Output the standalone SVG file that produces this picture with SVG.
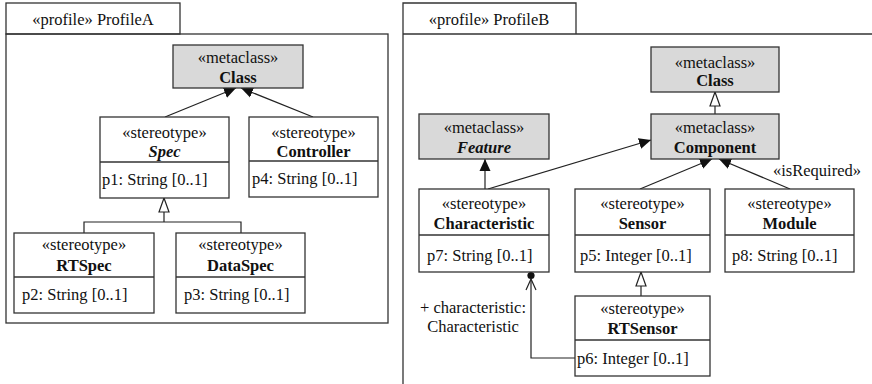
<svg xmlns="http://www.w3.org/2000/svg" width="872" height="384" viewBox="0 0 872 384">
  <style>
    text { font-family: "Times New Roman", Times, "Liberation Serif", "Noto Serif", "DejaVu Serif", serif; font-size: 16.5px; fill: #111; }
    .c { text-anchor: middle; }
    .b { font-weight: bold; }
    .i { font-style: italic; }
    .frame { fill: none; stroke: #333; stroke-width: 1.3; }
    .meta { fill: #d9d9d9; stroke: #333; stroke-width: 1.3; }
    .st { fill: #fff; stroke: #333; stroke-width: 1.3; }
    .sep { stroke: #333; stroke-width: 1.3; }
    .edge { fill: none; stroke: #222; stroke-width: 1.2; }
    .ext { marker-end: url(#extHead); }
    .gen { marker-end: url(#genHead); }
  </style>
  <defs>
    <marker id="extHead" markerUnits="userSpaceOnUse" markerWidth="12" markerHeight="12" viewBox="0 0 12 12" refX="12" refY="6" orient="auto">
      <path d="M0,0.5 L12,6 L0,11.5 z" fill="#111"/>
    </marker>
    <marker id="genHead" markerUnits="userSpaceOnUse" markerWidth="16" markerHeight="12" viewBox="0 0 16 12" refX="15" refY="6" orient="auto">
      <path d="M1,1 L15,6 L1,11 z" fill="#fff" stroke="#222" stroke-width="1.2"/>
    </marker>
  </defs>

  <!-- Profile A frame -->
  <g id="profileA">
    <rect class="frame" x="6" y="34" width="382" height="289"/>
    <rect class="frame" x="6" y="3" width="174" height="31"/>
    <text class="c" x="93" y="25">«profile» ProfileA</text>
  </g>

  <!-- Profile B frame (continues past the right and bottom edges) -->
  <g id="profileB">
    <path class="frame" d="M403,384 V3 H576 V34"/>
    <line class="frame" x1="403" y1="34" x2="872" y2="34"/>
    <text class="c" x="489" y="25">«profile» ProfileB</text>
  </g>

  <!-- Connectors -->
  <g id="connectors">
    <!-- Profile A extensions -->
    <line class="edge ext" x1="165" y1="117" x2="236" y2="88"/>
    <line class="edge ext" x1="313" y1="117" x2="241" y2="88"/>
    <!-- Profile A generalization -->
    <path class="edge" d="M84,233 V222 H241 V233"/>
    <line class="edge gen" x1="164" y1="222" x2="164" y2="198"/>
    <!-- Profile B generalizations -->
    <line class="edge gen" x1="715" y1="114" x2="715" y2="92"/>
    <line class="edge gen" x1="641" y1="296" x2="641" y2="272"/>
    <!-- Profile B extensions -->
    <line class="edge ext" x1="485" y1="189" x2="485" y2="159"/>
    <line class="edge ext" x1="488" y1="189" x2="651" y2="140"/>
    <line class="edge ext" x1="640" y1="189" x2="712" y2="159"/>
    <line class="edge ext" x1="790" y1="189" x2="719" y2="159"/>
    <text x="773" y="176">«isRequired»</text>
    <!-- Association RTSensor -> Characteristic -->
    <path class="edge" d="M575,358 H531 V272"/>
    <circle cx="531" cy="275.5" r="3.6" fill="#111"/>
    <path class="edge" d="M526,290 L531,279 L536,290"/>
    <text class="c" x="473" y="313">+ characteristic:</text>
    <text class="c" x="473" y="332">Characteristic</text>
  </g>

  <!-- Profile A nodes -->
  <g id="A_Class">
    <rect class="meta" x="173" y="45" width="130" height="43"/>
    <text class="c" x="238" y="63">«metaclass»</text>
    <text class="c b" x="238" y="83">Class</text>
  </g>
  <g id="A_Spec">
    <rect class="st" x="100" y="117" width="129" height="81"/>
    <line class="sep" x1="100" y1="162" x2="229" y2="162"/>
    <text class="c" x="164.5" y="138">«stereotype»</text>
    <text class="c b i" x="164.5" y="157">Spec</text>
    <text x="102" y="185">p1: String [0..1]</text>
  </g>
  <g id="A_Controller">
    <rect class="st" x="249" y="117" width="129" height="80"/>
    <line class="sep" x1="249" y1="161" x2="378" y2="161"/>
    <text class="c" x="313.5" y="138">«stereotype»</text>
    <text class="c b" x="313.5" y="157">Controller</text>
    <text x="252" y="184">p4: String [0..1]</text>
  </g>
  <g id="A_RTSpec">
    <rect class="st" x="14" y="233" width="140" height="80"/>
    <line class="sep" x1="14" y1="277" x2="154" y2="277"/>
    <text class="c" x="84" y="250">«stereotype»</text>
    <text class="c b" x="84" y="271">RTSpec</text>
    <text x="22" y="300">p2: String [0..1]</text>
  </g>
  <g id="A_DataSpec">
    <rect class="st" x="176" y="233" width="129" height="80"/>
    <line class="sep" x1="176" y1="277" x2="305" y2="277"/>
    <text class="c" x="240.5" y="250">«stereotype»</text>
    <text class="c b" x="240.5" y="271">DataSpec</text>
    <text x="184" y="300">p3: String [0..1]</text>
  </g>

  <!-- Profile B nodes -->
  <g id="B_Class">
    <rect class="meta" x="651" y="47" width="128" height="45"/>
    <text class="c" x="715" y="68">«metaclass»</text>
    <text class="c b" x="715" y="86">Class</text>
  </g>
  <g id="B_Component">
    <rect class="meta" x="651" y="114" width="128" height="45"/>
    <text class="c" x="715" y="133">«metaclass»</text>
    <text class="c b" x="715" y="153">Component</text>
  </g>
  <g id="B_Feature">
    <rect class="meta" x="419" y="114" width="130" height="45"/>
    <text class="c" x="484" y="133">«metaclass»</text>
    <text class="c b i" x="484" y="153">Feature</text>
  </g>
  <g id="B_Characteristic">
    <rect class="st" x="419" y="189" width="130" height="83"/>
    <line class="sep" x1="419" y1="235" x2="549" y2="235"/>
    <text class="c" x="484" y="209">«stereotype»</text>
    <text class="c b" x="484" y="229">Characteristic</text>
    <text x="427" y="261">p7: String [0..1]</text>
  </g>
  <g id="B_Sensor">
    <rect class="st" x="575" y="189" width="135" height="83"/>
    <line class="sep" x1="575" y1="235" x2="710" y2="235"/>
    <text class="c" x="642.5" y="209">«stereotype»</text>
    <text class="c b" x="642.5" y="229">Sensor</text>
    <text x="580" y="261">p5: Integer [0..1]</text>
  </g>
  <g id="B_Module">
    <rect class="st" x="725" y="189" width="129" height="83"/>
    <line class="sep" x1="725" y1="235" x2="854" y2="235"/>
    <text class="c" x="789.5" y="209">«stereotype»</text>
    <text class="c b" x="789.5" y="229">Module</text>
    <text x="732" y="261">p8: String [0..1]</text>
  </g>
  <g id="B_RTSensor">
    <rect class="st" x="575" y="296" width="135" height="80"/>
    <line class="sep" x1="575" y1="340" x2="710" y2="340"/>
    <text class="c" x="642.5" y="314">«stereotype»</text>
    <text class="c b" x="642.5" y="334">RTSensor</text>
    <text x="577" y="364">p6: Integer [0..1]</text>
  </g>
</svg>
